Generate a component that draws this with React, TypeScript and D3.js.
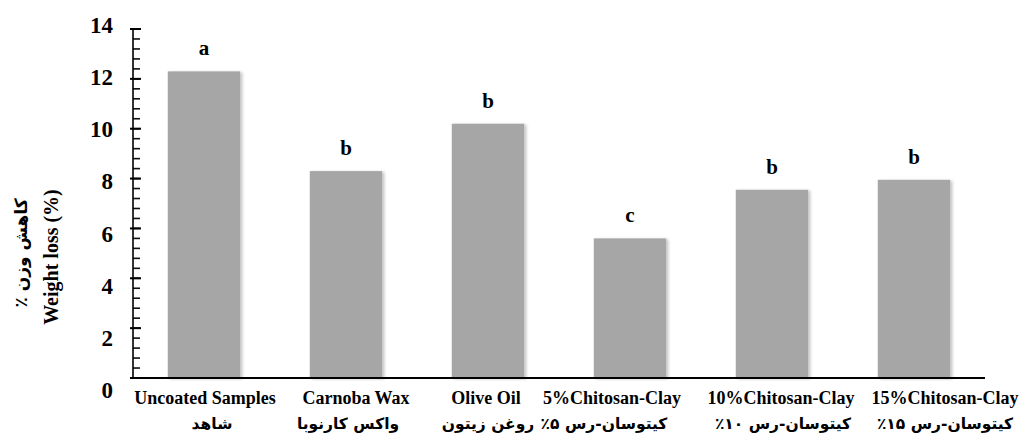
import React from "react";
import * as d3 from "d3";

const categories = ["uncoated", "carnauba", "olive", "cc5", "cc10", "cc15"];
const labelsEn = [
  "Uncoated Samples",
  "Carnoba Wax",
  "Olive Oil",
  "5%Chitosan-Clay",
  "10%Chitosan-Clay",
  "15%Chitosan-Clay",
];
const labelsFa = [
  "شاهد",
  "واکس کارنوبا",
  "روغن زیتون",
  "کیتوسان-رس ۵٪",
  "کیتوسان-رس ۱۰٪",
  "کیتوسان-رس ۱۵٪",
];
const weightLoss = [12.3, 8.3, 10.2, 5.6, 7.55, 7.95];
const letters = ["a", "b", "b", "c", "b", "b"];
const yTickValues = [0, 2, 4, 6, 8, 10, 12, 14];

// layout constants (label nudges as in the source figure)
const enShift = [1, 10, -2, -18, 9, 31];
const faShift = [8, 2, 0, -26, 11, 31];

const W = 1025;
const H = 440;
const left = 133;
const right = 985;
const top = 29;
const bottom = 378;

export default function App() {
  const x = d3
    .scaleBand<string>()
    .domain(categories)
    .range([left, right])
    .paddingInner(0.49)
    .paddingOuter(0.245);
  const y = d3.scaleLinear().domain([0, 14]).range([bottom, top]);
  const yLab = d3.scaleLinear().domain([0, 14]).range([390, 25]);
  const minorTicks = d3.range(0, 36).map((k) => k * 0.4);
  const serif = "'Liberation Serif', 'Times New Roman', serif";
  const fa = "'DejaVu Sans', sans-serif";

  return (
    <svg
      width={W}
      height={H}
      style={{ position: "absolute", left: 0, top: 0, background: "#fff" }}
    >
      <defs>
        <filter id="sh" x="-10%" y="-10%" width="130%" height="130%">
          <feDropShadow dx="2" dy="1" stdDeviation="1.5" floodColor="#000" floodOpacity="0.25" />
        </filter>
      </defs>
      {/* bars */}
      {categories.map((c, i) => (
        <rect
          key={c}
          x={x(c)}
          y={y(weightLoss[i])}
          width={x.bandwidth()}
          height={y(0) - y(weightLoss[i])}
          fill="#a6a6a6"
          filter="url(#sh)"
        />
      ))}
      {/* significance letters */}
      {categories.map((c, i) => (
        <text
          key={c + "l"}
          x={(x(c) as number) + x.bandwidth() / 2}
          y={y(weightLoss[i]) - 16}
          textAnchor="middle"
          fontFamily={serif}
          fontWeight="bold"
          fontSize={21}
          fill="#000"
        >
          {letters[i]}
        </text>
      ))}
      {/* y ticks */}
      {minorTicks.map((t, i) => (
        <rect
          key={"m" + i}
          x={left}
          y={y(t) - 0.8}
          width={7}
          height={1.6}
          fill="#111"
        />
      ))}
      {yTickValues.map((t) => (
        <rect
          key={"M" + t}
          x={left - 3}
          y={y(t) - 1}
          width={11}
          height={2}
          fill="#000"
        />
      ))}
      {/* axes */}
      <line x1={left} x2={left} y1={top} y2={bottom} stroke="#000" strokeWidth={1.6} />
      <line x1={left} x2={right} y1={bottom} y2={bottom} stroke="#000" strokeWidth={2} />
      {yTickValues.map((t) => (
        <text
          key={"t" + t}
          x={113}
          y={yLab(t)}
          dy="0.35em"
          textAnchor="end"
          fontFamily={serif}
          fontWeight="bold"
          fontSize={23}
          fill="#000"
        >
          {t}
        </text>
      ))}
      {/* category labels */}
      {categories.map((c, i) => (
        <text
          key={c + "en"}
          x={(x(c) as number) + x.bandwidth() / 2 + enShift[i]}
          y={404}
          textAnchor="middle"
          fontFamily={serif}
          fontWeight="bold"
          fontSize={18}
          fill="#000"
        >
          {labelsEn[i]}
        </text>
      ))}
      {categories.map((c, i) => (
        <text
          key={c + "fa"}
          x={(x(c) as number) + x.bandwidth() / 2 + faShift[i]}
          y={429}
          textAnchor="middle"
          direction="rtl"
          fontFamily={fa}
          fontWeight="bold"
          fontSize={15.5}
          fill="#000"
        >
          {labelsFa[i]}
        </text>
      ))}
      {/* y title */}
      <text
        transform="translate(21,253) rotate(-90)"
        textAnchor="middle"
        dy="0.35em"
        direction="rtl"
        fontFamily={fa}
        fontWeight="bold"
        fontSize={17}
        fill="#000"
      >
        کاهش وزن ٪
      </text>
      <text
        transform="translate(51,257) rotate(-90)"
        textAnchor="middle"
        dy="0.35em"
        fontFamily={serif}
        fontWeight="bold"
        fontSize={20}
        fill="#000"
      >
        Weight loss (%)
      </text>
    </svg>
  );
}
